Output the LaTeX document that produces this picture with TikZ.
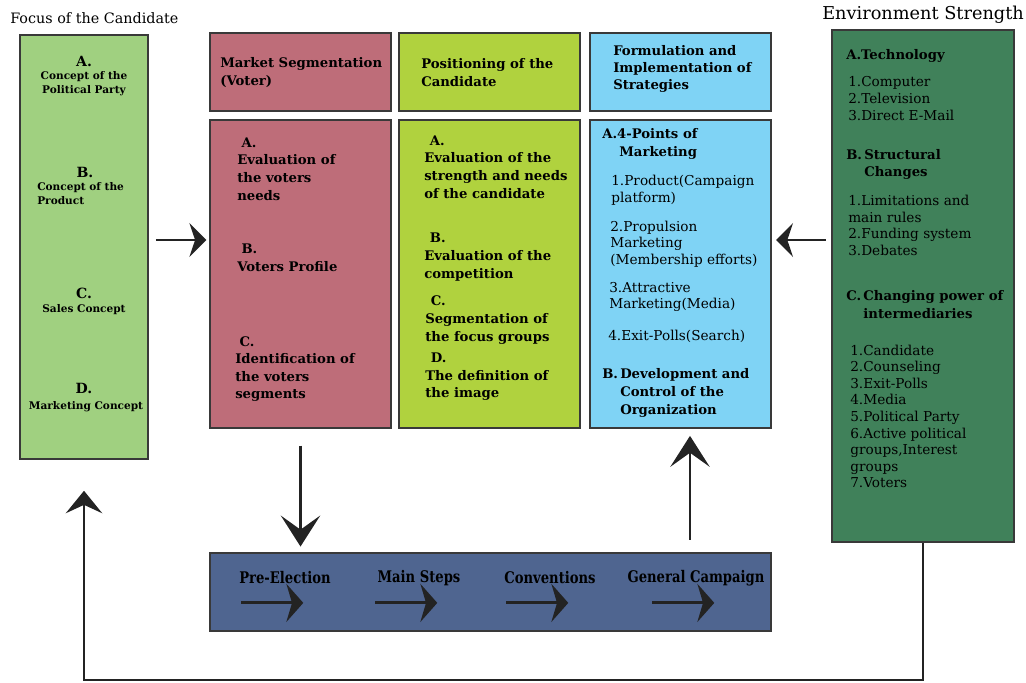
\documentclass[tikz,border=0pt]{standalone}
\usepackage{fontspec}
\setmainfont{DejaVu Serif}
\newfontfamily\stepfont[FakeStretch=0.82]{DejaVu Serif}
\usetikzlibrary{arrows.meta,fit,positioning}

\definecolor{focusgreen}{RGB}{160,208,128}
\definecolor{segrose}{RGB}{190,109,121}
\definecolor{poslime}{RGB}{176,210,62}
\definecolor{formblue}{RGB}{127,211,245}
\definecolor{envgreen}{RGB}{64,129,90}
\definecolor{stepblue}{RGB}{79,101,144}
\definecolor{inkgray}{RGB}{35,35,35}

\tikzset{
  panel/.style={draw=inkgray!90, line width=1.2pt, inner sep=0pt},
  titletxt/.style={anchor=west, inner sep=0pt, font={\fontsize{10.2}{12}\selectfont}},
  headtxt/.style={anchor=west, inner sep=0pt, align=left, font={\fontsize{9.4}{12.2}\selectfont\bfseries}},
  bodytxt/.style={anchor=west, inner sep=0pt, align=left, font={\fontsize{9.4}{12.5}\selectfont\bfseries}},
  listtxt/.style={anchor=west, inner sep=0pt, align=left, font={\fontsize{9.7}{11.8}\selectfont}},
  smalltxt/.style={inner sep=0pt, align=center, font={\fontsize{7.5}{9.9}\selectfont\bfseries}},
  lettertxt/.style={inner sep=0pt, font={\fontsize{10}{12}\selectfont\bfseries}},
  steptxt/.style={inner sep=0pt, font={\fontsize{11.4}{12}\stepfont\bfseries}},
  bigarrow/.style={draw=inkgray, line width=2pt, -{Stealth[length=12pt,width=24pt,inset=4pt]}},
  vertarrow/.style={draw=inkgray, line width=2pt, -{Stealth[length=22pt,width=28pt,inset=10pt]}},
  steparrow/.style={draw=inkgray, line width=2pt, -{Stealth[length=12pt,width=27pt,inset=4pt]}},
  backline/.style={draw=inkgray, line width=1pt, -{Stealth[length=16pt,width=26pt,inset=6pt]}},
}

\begin{document}
\begin{tikzpicture}[x=0.025cm, y=-0.025cm]

\useasboundingbox (0,0) rectangle (1026,683);

\node[titletxt] (focustitle) at (10,18) {Focus of the Candidate};
\node[titletxt, font={\fontsize{12.6}{14}\selectfont}] (envtitle) at (822,15) {Environment Strength};

\node[panel, fill=focusgreen, fit={(20,35) (148,459)}] (focus) {};
\node[panel, fill=segrose, fit={(210,33) (391,111)}] (seghead) {};
\node[panel, fill=segrose, fit={(210,120) (391,428)}] (segbody) {};
\node[panel, fill=poslime, fit={(399,33) (580,111)}] (poshead) {};
\node[panel, fill=poslime, fit={(399,120) (580,428)}] (posbody) {};
\node[panel, fill=formblue, fit={(590,33) (771,111)}] (formhead) {};
\node[panel, fill=formblue, fit={(590,120) (771,428)}] (formbody) {};
\node[panel, fill=envgreen, fit={(832,30) (1014,542)}] (env) {};
\node[panel, fill=stepblue, fit={(210,553) (771,631)}] (steps) {};

% focus of the candidate
\node[lettertxt] (fa) at (84,61) {A.};
\node[smalltxt] at (84,84) {Concept of the\\Political Party};
\node[lettertxt] (fb) at (85,172) {B.};
\node[smalltxt, anchor=west, align=left] at (37,194) {Concept of the\\Product};
\node[lettertxt] (fc) at (84,293) {C.};
\node[smalltxt] at (84,310) {Sales Concept};
\node[lettertxt] (fd) at (84,388) {D.};
\node[smalltxt] at (86,407) {Marketing Concept};

% headers
\node[headtxt] at (220,72.5) {Market Segmentation\\(Voter)};
\node[headtxt] at (421,72.5) {Positioning of the\\Candidate};
\node[headtxt] at (613,69) {Formulation and\\Implementation of\\Strategies};

% market segmentation
\node[bodytxt] at (237,169) {\hspace*{3pt}A.\\Evaluation of\\the voters\\needs};
\node[bodytxt] at (237,258) {\hspace*{3pt}B.\\Voters Profile};
\node[bodytxt] at (235,369) {\hspace*{3pt}C.\\Identification of\\the voters\\segments};

% positioning
\node[bodytxt] at (424,167) {\hspace*{4pt}A.\\Evaluation of the\\strength and needs\\of the candidate};
\node[bodytxt] at (424,257) {\hspace*{4pt}B.\\Evaluation of the\\competition};
\node[bodytxt] at (425,320) {\hspace*{4pt}C.\\Segmentation of\\the focus groups};
\node[bodytxt] at (425,377) {\hspace*{4pt}D.\\The definition of\\the image};

% formulation
\node[bodytxt] at (602,144) {A.4-Points of\\\hphantom{A.}\,Marketing};
\node[listtxt] at (611,190) {1.Product(Campaign\\platform)};
\node[listtxt] at (610,244) {2.Propulsion\\Marketing\\(Membership efforts)};
\node[listtxt] at (609,297) {3.Attractive\\Marketing(Media)};
\node[listtxt] at (608,336) {4.Exit-Polls(Search)};
\node[bodytxt] at (602,393) {B.\,Development and\\\hphantom{B.}\,Control of the\\\hphantom{B.}\,Organization};

% environment
\node[bodytxt] at (846,56) {A.Technology};
\node[listtxt] at (848,98.5) {1.Computer\\2.Television\\3.Direct E-Mail};
\node[bodytxt] at (846,164.5) {B.\,Structural\\\hphantom{B.}\,Changes};
\node[listtxt] at (848,225.5) {1.Limitations and\\main rules\\2.Funding system\\3.Debates};
\node[bodytxt] at (846,304.5) {C.\,Changing power of\\\hphantom{C.}\,intermediaries};
\node[listtxt] at (850,416.5) {1.Candidate\\2.Counseling\\3.Exit-Polls\\4.Media\\5.Political Party\\6.Active political\\groups,Interest\\groups\\7.Voters};

% campaign steps
\node[steptxt] (pre) at (285,578) {Pre-Election};
\node[steptxt] (main) at (419,578) {Main Steps};
\node[steptxt] (conv) at (550,578) {Conventions};
\node[steptxt] (gen) at (696,578) {General Campaign};
\foreach \s in {pre,main,conv,gen}
  \draw[steparrow] ([xshift=-31pt,yshift=-17.7pt]\s.center) -- ++(44pt,0);

% connectors
\coordinate (arrowrow) at (0,240);
\coordinate (upcol) at (690,0);
\coordinate (backrow) at (0,680);

\draw[bigarrow, shorten <=5pt, shorten >=2pt] (focus.east |- arrowrow) -- (segbody.west |- arrowrow);
\draw[bigarrow, shorten <=4pt, shorten >=3pt] (env.west |- arrowrow) -- (formbody.east |- arrowrow);
\draw[vertarrow, shorten <=12pt, shorten >=4pt] (segbody.south) -- (segbody.south |- steps.north);
\draw[vertarrow, shorten <=9pt, shorten >=5pt] (steps.north -| upcol) -- (formbody.south -| upcol);
\draw[backline, shorten >=22pt] (env.south) |- (focus.south |- backrow) -- (focus.south);

\end{tikzpicture}
\end{document}
